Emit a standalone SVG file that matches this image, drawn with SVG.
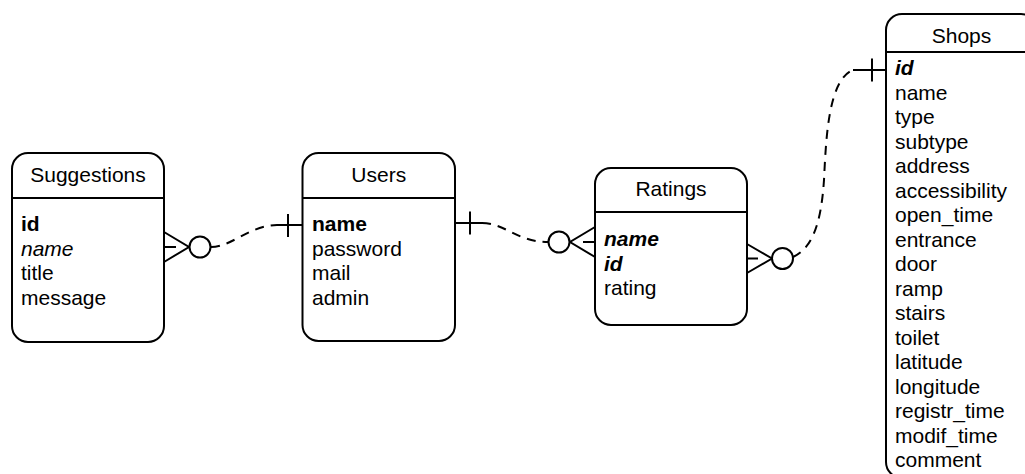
<svg xmlns="http://www.w3.org/2000/svg" width="1025" height="474" viewBox="0 0 1025 474">
  <style>
    .box { fill: #ffffff; stroke: #000000; stroke-width: 2; }
    .sep { stroke: #000000; stroke-width: 2; fill: none; }
    .t { font-family: "Liberation Sans", Arial, sans-serif; font-size: 21px; fill: #000000; }
    .title { text-anchor: middle; }
    .b { font-weight: bold; }
    .i { font-style: italic; }
    .solid { stroke: #000000; stroke-width: 2; fill: none; }
    .dash { stroke: #000000; stroke-width: 2; fill: none; stroke-dasharray: 9 7; }
    .ring { stroke: #000000; stroke-width: 2; fill: #ffffff; }
  </style>

  <rect width="1025" height="474" fill="#ffffff"/>

  <!-- Suggestions table -->
  <g id="suggestions">
    <rect class="box" x="12" y="153" width="152" height="189" rx="16" ry="16"/>
    <line class="sep" x1="12" y1="198" x2="164" y2="198"/>
    <text class="t title" x="88" y="182">Suggestions</text>
    <text class="t b" x="21" y="231">id</text>
    <text class="t i" x="21" y="255.5">name</text>
    <text class="t" x="21" y="280">title</text>
    <text class="t" x="21" y="304.5">message</text>
  </g>

  <!-- Users table -->
  <g id="users">
    <rect class="box" x="302.5" y="153" width="152.5" height="188" rx="16" ry="16"/>
    <line class="sep" x1="302.5" y1="198" x2="455" y2="198"/>
    <text class="t title" x="378.75" y="182">Users</text>
    <text class="t b" x="312" y="231">name</text>
    <text class="t" x="312" y="255.5">password</text>
    <text class="t" x="312" y="280">mail</text>
    <text class="t" x="312" y="304.5">admin</text>
  </g>

  <!-- Ratings table -->
  <g id="ratings">
    <rect class="box" x="595" y="168" width="152" height="157" rx="16" ry="16"/>
    <line class="sep" x1="595" y1="212" x2="747" y2="212"/>
    <text class="t title" x="671" y="196">Ratings</text>
    <text class="t b i" x="604" y="246">name</text>
    <text class="t b i" x="604" y="270.5">id</text>
    <text class="t" x="604" y="295">rating</text>
  </g>

  <!-- Shops table -->
  <g id="shops">
    <rect class="box" x="886" y="14" width="151" height="464" rx="16" ry="16"/>
    <line class="sep" x1="886" y1="52" x2="1037" y2="52"/>
    <text class="t title" x="961.5" y="43">Shops</text>
    <text class="t b i" x="895" y="75">id</text>
    <text class="t" x="895" y="99.5">name</text>
    <text class="t" x="895" y="124">type</text>
    <text class="t" x="895" y="148.5">subtype</text>
    <text class="t" x="895" y="173">address</text>
    <text class="t" x="895" y="197.5">accessibility</text>
    <text class="t" x="895" y="222">open_time</text>
    <text class="t" x="895" y="246.5">entrance</text>
    <text class="t" x="895" y="271">door</text>
    <text class="t" x="895" y="295.5">ramp</text>
    <text class="t" x="895" y="320">stairs</text>
    <text class="t" x="895" y="344.5">toilet</text>
    <text class="t" x="895" y="369">latitude</text>
    <text class="t" x="895" y="393.5">longitude</text>
    <text class="t" x="895" y="418">registr_time</text>
    <text class="t" x="895" y="442.5">modif_time</text>
    <text class="t" x="895" y="467">comment</text>
  </g>

  <!-- Relationships -->
  <g id="connectors">
    <!-- Suggestions (zero or many) to Users (one) -->
    <g id="sugg-users">
      <path class="solid" d="M164 232 L189 247 L164 262 M164 247 L176 247"/>
      <path class="dash" d="M211 247 C232 247 250 225 277 225"/>
      <path class="solid" d="M277 225 L302.5 225 M288 214 L288 237"/>
      <circle class="ring" cx="200" cy="247" r="10.5"/>
    </g>
    <!-- Users (one) to Ratings (zero or many) -->
    <g id="users-ratings">
      <path class="solid" d="M455 223 L482 223 M470 211.5 L470 234.5"/>
      <path class="dash" d="M482 223 C505 223 517 242 548 242"/>
      <path class="solid" d="M595 227 L570 242 L595 257 M595 242 L583 242"/>
      <circle class="ring" cx="559" cy="242" r="10.5"/>
    </g>
    <!-- Ratings (zero or many) to Shops (one) -->
    <g id="ratings-shops">
      <path class="solid" d="M747 244 L772 258.5 L747 273 M747 258.5 L758 258.5"/>
      <path class="dash" d="M793 257 C812 248 821 225 824 180 C826 140 828 80 853 70"/>
      <path class="solid" d="M853 70 L886 70 M872 58.5 L872 81.5"/>
      <circle class="ring" cx="782.5" cy="258.5" r="10.5"/>
    </g>
  </g>
</svg>
